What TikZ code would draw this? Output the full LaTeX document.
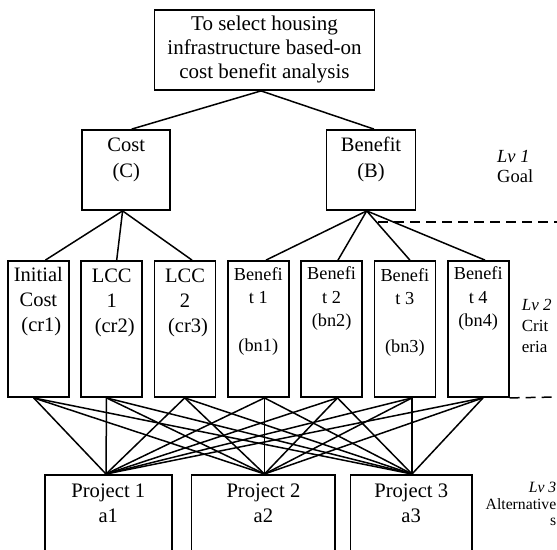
\documentclass[tikz,border=0pt]{standalone}
\usepackage{fontspec}
\setmainfont{Liberation Serif}
\begin{document}
\begin{tikzpicture}[x=1pt,y=-1pt,
  box/.style={draw, line width=1.8pt, inner sep=0pt, rectangle},
  conn/.style={line width=1.5pt},
  dashline/.style={line width=1.5pt, dash pattern=on 10pt off 6pt},
  txt/.style={inner sep=0pt, align=center}]
\useasboundingbox (0,0) rectangle (557,549);
\clip (0,0) rectangle (557,549);
\fill[white] (0,0) rectangle (557,549);

% goal
\node[box, minimum width=220pt, minimum height=80pt, align=center,
  font=\fontsize{21}{24}\selectfont] (top) at (264.5,50)
  {\strut To select housing\\\strut infrastructure based-on\\\strut cost benefit analysis};

% level 1
\node[box, minimum width=88pt, minimum height=80pt] (cost) at (126.2,170) {};
\node[txt, font=\fontsize{20.5}{26}\selectfont] (costtxt) at (126.2,159) {\strut Cost\\\strut (C)};
\node[box, minimum width=89pt, minimum height=80pt] (ben) at (371,170) {};
\node[txt, font=\fontsize{20.5}{26}\selectfont] (bentxt) at (371,159) {\strut Benefit\\\strut (B)};

% level 2 boxes
\foreach \i in {1,...,7}
  \node[box, minimum width=61pt, minimum height=136pt] (b\i) at ({38.4+73.3*(\i-1)},329) {};

% level 2 texts
\node[txt, font=\fontsize{20.5}{25}\selectfont] (t1) at (38.4,301.2) {\strut Initial\\\strut Cost\\\hspace*{6pt}\strut(cr1)};
\node[txt, font=\fontsize{20.5}{25}\selectfont] (t2) at (111.7,302.5) {\strut LCC\\\strut 1\\\hspace*{6pt}\strut(cr2)};
\node[txt, font=\fontsize{20.5}{25}\selectfont] (t3) at (185,302.5) {\strut LCC\\\strut 2\\\hspace*{6pt}\strut(cr3)};
\node[txt, font=\fontsize{18.3}{23.7}\selectfont] (t4) at (258.3,311) {\strut Benefi\\\strut t 1\\\strut\\\strut (bn1)};
\node[txt, font=\fontsize{18.3}{23.7}\selectfont] (t5) at (331.6,298.5) {\strut Benefi\\\strut t 2\\\strut (bn2)};
\node[txt, font=\fontsize{18.3}{23.7}\selectfont] (t6) at (404.9,312) {\strut Benefi\\\strut t 3\\\strut\\\strut (bn3)};
\node[txt, font=\fontsize{18.3}{23.7}\selectfont] (t7) at (478.2,298.5) {\strut Benefi\\\strut t 4\\\strut (bn4)};

% level 3 boxes
\node[box, minimum width=127pt, minimum height=100pt, anchor=north] (p1) at (108.3,474) {};
\node[box, minimum width=143.7pt, minimum height=100pt, anchor=north] (p2) at (263.4,474) {};
\node[box, minimum width=121.5pt, minimum height=100pt, anchor=north] (p3) at (411.2,474) {};
\node[txt, font=\fontsize{20.6}{25}\selectfont] (pt1) at (108.3,504.7) {\strut Project 1\\\strut a1};
\node[txt, font=\fontsize{20.6}{25}\selectfont] (pt2) at (263.4,504.7) {\strut Project 2\\\strut a2};
\node[txt, font=\fontsize{20.6}{25}\selectfont] (pt3) at (411.2,504.7) {\strut Project 3\\\strut a3};

% level labels
\node[inner sep=0pt, anchor=west, align=left, font=\fontsize{18.5}{20}\selectfont] (lv1) at (497,168.5) {\strut\textit{Lv 1}\\\strut Goal};
\node[inner sep=0pt, anchor=west, align=left, font=\fontsize{17}{21}\selectfont] (lv2) at (521.7,326.9) {\strut\textit{Lv 2}\\\strut Crit\\\strut eria};
\node[inner sep=0pt, anchor=east, align=right, font=\fontsize{15.7}{16.5}\selectfont] (lv3) at (556.5,505.9) {\strut\textit{Lv 3}\\\strut Alternative\\\strut s};

% connectors goal -> level 1
\draw[conn] ([xshift=-3.5pt]top.south) -- ([xshift=5.5pt]cost.north);
\draw[conn] ([xshift=-3.5pt]top.south) -- ([xshift=3pt]ben.north);

% level 1 -> level 2
\draw[conn] ([xshift=-3.6pt]cost.south) -- ([xshift=7pt]b1.north);
\draw[conn] ([xshift=-3.6pt]cost.south) -- ([xshift=5pt]b2.north);
\draw[conn] ([xshift=-3.6pt]cost.south) -- ([xshift=7pt]b3.north);
\draw[conn] ([xshift=-4.3pt]ben.south) -- ([xshift=7.7pt]b4.north);
\draw[conn] ([xshift=-4.3pt]ben.south) -- ([xshift=6.4pt]b5.north);
\draw[conn] ([xshift=-4.3pt]ben.south) -- ([xshift=5pt]b6.north);
\draw[conn] ([xshift=-4.3pt]ben.south) -- ([xshift=6.8pt]b7.north);

% level 2 -> level 3
\foreach \i/\s in {1/-4.7,2/-5.2,3/-0.3,4/6.2,5/5.9,6/7.1,7/4.8}
  \foreach \p/\t in {p1/-2.3,p2/1.1,p3/0.8}
    \draw[conn] ([xshift=\s pt]b\i.south) -- ([xshift=\t pt]\p.north);

% dashed level separators
\coordinate (d1a) at (378,222);
\coordinate (d1b) at (557,222);
\coordinate (d2b) at (557,397);
\draw[dashline] (d1a) -- (d1b);
\draw[dashline] (b7.south east) -- (d2b);
\end{tikzpicture}
\end{document}
